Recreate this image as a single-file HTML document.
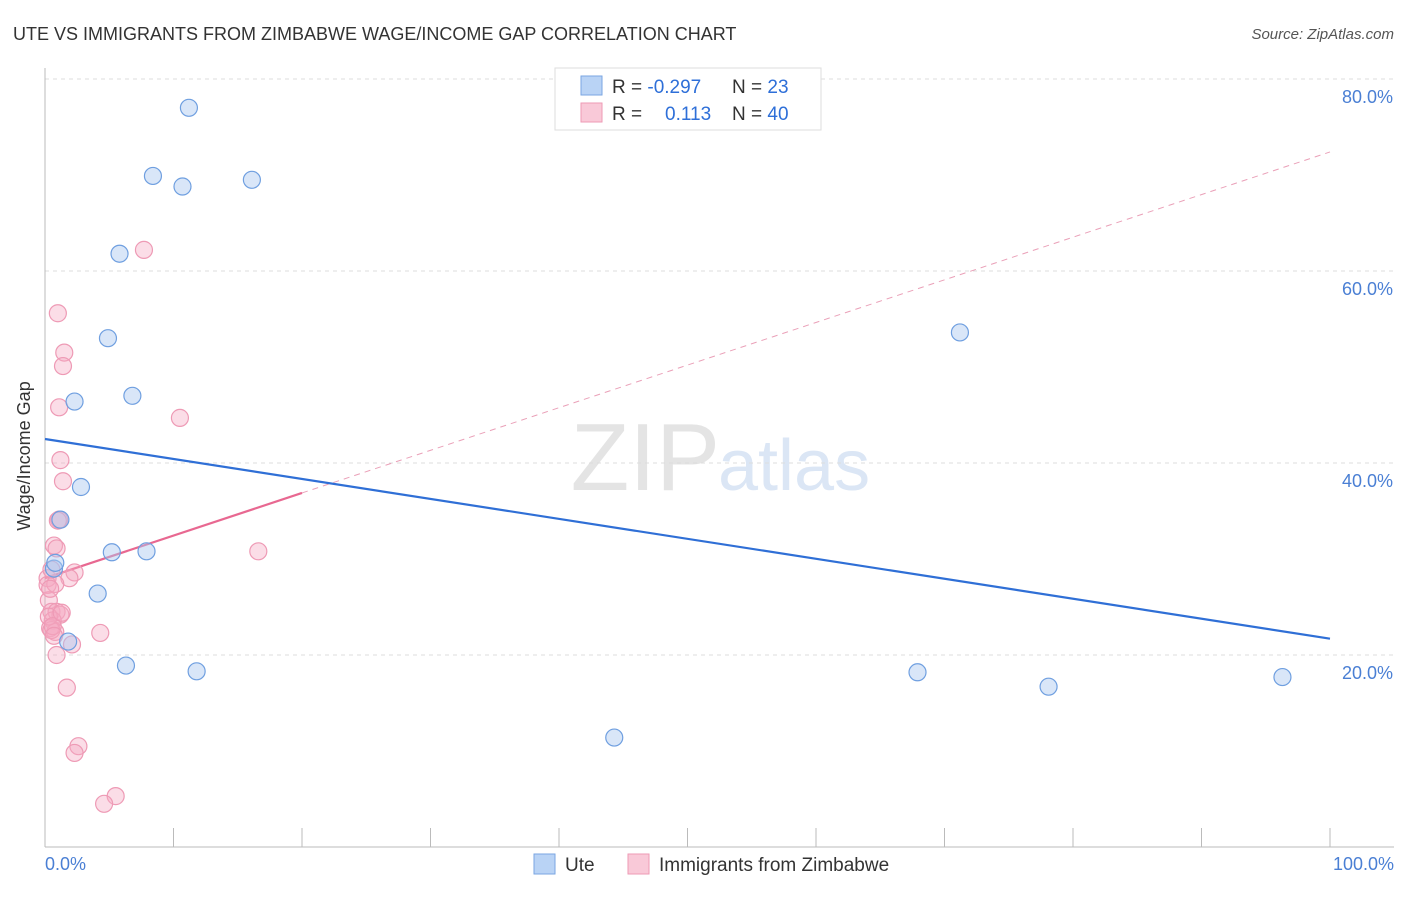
<!DOCTYPE html>
<html><head><meta charset="utf-8"><style>
body{margin:0;background:#fff;font-family:"Liberation Sans",sans-serif;}
svg text{font-family:"Liberation Sans",sans-serif;}
</style></head><body>
<svg id="chart" width="1406" height="892">
<text x="13" y="40" font-size="18" fill="#333">UTE VS IMMIGRANTS FROM ZIMBABWE WAGE/INCOME GAP CORRELATION CHART</text>
<text x="1394" y="39" font-size="15" fill="#555" font-style="italic" text-anchor="end">Source: ZipAtlas.com</text>
<text x="720" y="490" font-size="96" fill="#e4e4e4" font-family="Liberation Serif" text-anchor="end">ZIP</text>
<text x="718" y="490" font-size="72" fill="#dbe6f5">atlas</text>
<g id="grid"></g>
<line x1="45" y1="68" x2="45" y2="847" stroke="#bbb"/>
<line x1="45" y1="847" x2="1394" y2="847" stroke="#bbb"/>
<text x="30" y="456" font-size="18" fill="#333" transform="rotate(-90 30 456)" text-anchor="middle">Wage/Income Gap</text>
<text x="45" y="870" font-size="18" fill="#4a7fd4">0.0%</text>
<text x="1394" y="870" font-size="18" fill="#4a7fd4" text-anchor="end">100.0%</text>
<g id="lines"></g>
<g id="points"></g>
<g>
<rect x="555" y="68" width="266" height="62" fill="#fff" stroke="#ddd"/>
<rect x="581" y="76" width="21" height="19" fill="#b9d3f5" stroke="#7aa6e2"/>
<rect x="581" y="103" width="21" height="19" fill="#f9c9d8" stroke="#ee9ab5"/>
<text x="612" y="93" font-size="19" fill="#333">R = <tspan fill="#2e6fd8">-0.297</tspan><tspan x="732">N = </tspan><tspan fill="#2e6fd8">23</tspan></text>
<text x="612" y="120" font-size="19" fill="#333">R = <tspan x="665" fill="#2e6fd8">0.113</tspan><tspan x="732">N = </tspan><tspan fill="#2e6fd8">40</tspan></text>
</g>
<g>
<rect x="534" y="854" width="21" height="20" fill="#b9d3f5" stroke="#7aa6e2"/>
<text x="565" y="871" font-size="19" fill="#333">Ute</text>
<rect x="628" y="854" width="21" height="20" fill="#f9c9d8" stroke="#ee9ab5"/>
<text x="659" y="871" font-size="19" fill="#333">Immigrants from Zimbabwe</text>
</g>
</svg>
<script>
const yTicks=[20,40,60,80];
const yTickLabels=["20.0%","40.0%","60.0%","80.0%"];
const uteX=[11.2,8.4,10.7,16.1,5.8,4.9,2.3,6.8,2.8,1.2,5.2,7.9,0.7,4.1,1.8,6.3,11.8,44.3,67.9,71.2,78.1,96.3,0.8];
const uteY=[77.0,69.9,68.8,69.5,61.8,53.0,46.4,47.0,37.5,34.1,30.7,30.8,29.0,26.4,21.4,18.9,18.3,11.4,18.2,53.6,16.7,17.7,29.6];
const zimX=[7.7,1.0,1.5,1.4,1.1,10.5,1.2,1.4,1.1,0.7,0.9,16.6,2.3,1.9,0.2,0.2,0.8,0.3,0.5,0.9,1.2,0.6,0.4,0.8,4.3,2.1,0.9,1.7,2.6,2.3,5.5,4.6,0.5,0.5,1.0,0.3,0.6,1.3,0.4,0.7];
const zimY=[62.2,55.6,51.5,50.1,45.8,44.7,40.3,38.1,34.1,31.4,31.1,30.8,28.6,28.0,28.0,27.3,27.4,25.7,24.5,24.5,24.2,23.6,22.8,22.4,22.3,21.1,20.0,16.6,10.5,9.8,5.3,4.5,28.9,22.6,34.0,24.0,23.0,24.4,26.9,22.0];
const uteTrend=[42.5,21.7];
const zimTrend=[28.0,72.4];
const zimSolidEnd=20;
const NS="http://www.w3.org/2000/svg";
function xs(v){return 45+v*12.85;}
function ys(v){return 847-v*9.6;}
function mk(tag,attrs,parent){const e=document.createElementNS(NS,tag);for(const k in attrs)e.setAttribute(k,attrs[k]);parent.appendChild(e);return e;}
const grid=document.getElementById('grid');
yTicks.forEach((t,i)=>{
 const l=mk('line',{x1:45,x2:1394,y1:ys(t),y2:ys(t),stroke:'#ddd','stroke-dasharray':'4,4'},grid);
 
 
 const tx=mk('text',{x:1393,y:ys(t)+24,'font-size':18,fill:'#4a7fd4','text-anchor':'end'},grid);
 tx.textContent=yTickLabels[i];
 
 
});
for(let i=1;i<=10;i++){
 const l=mk('line',{x1:xs(i*10),x2:xs(i*10),y1:828,y2:847,stroke:'#bbb'},grid);
 
 
}
const pts=document.getElementById('points');
zimX.forEach((x,i)=>{
 const c=mk('circle',{cx:xs(x),cy:ys(zimY[i]),r:8.5,fill:'rgba(246,170,195,0.4)',stroke:'#ee9ab5','stroke-width':1.2},pts);
 
 
});
uteX.forEach((x,i)=>{
 const c=mk('circle',{cx:xs(x),cy:ys(uteY[i]),r:8.5,fill:'rgba(170,200,240,0.45)',stroke:'#6f9fe0','stroke-width':1.2},pts);
 
 
});
const ln=document.getElementById('lines');
const zs=zimTrend[0]+(zimTrend[1]-zimTrend[0])*zimSolidEnd/100;
let a=mk('line',{x1:xs(zimSolidEnd),y1:ys(zs),x2:xs(100),y2:ys(zimTrend[1]),stroke:'#eaa0b8','stroke-width':1,'stroke-dasharray':'6,5'},ln);


a=mk('line',{x1:xs(0),y1:ys(uteTrend[0]),x2:xs(100),y2:ys(uteTrend[1]),stroke:'#2f6fd6','stroke-width':2.2},ln);


a=mk('line',{x1:xs(0),y1:ys(zimTrend[0]),x2:xs(zimSolidEnd),y2:ys(zs),stroke:'#e86891','stroke-width':2.2},ln);


</script>
</body></html>
